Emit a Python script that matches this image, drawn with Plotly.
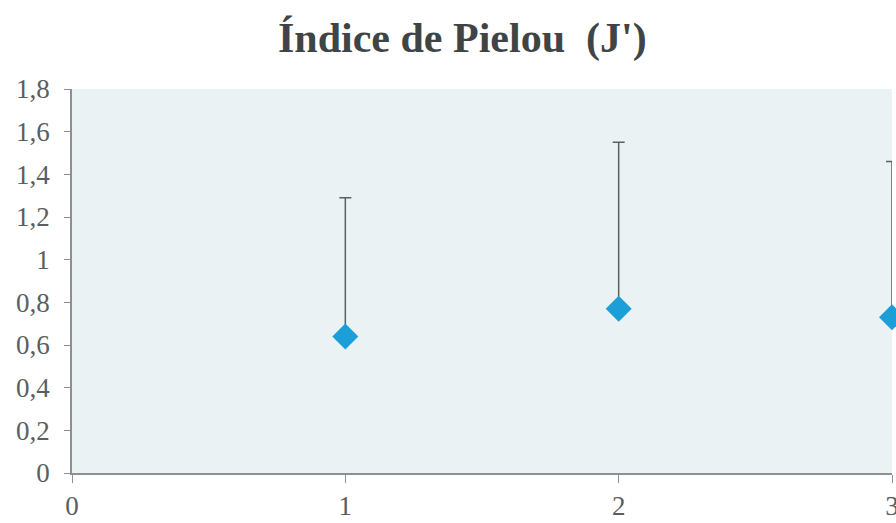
import plotly.graph_objects as go

# Pielou evenness per sample, with upper deviation
muestras = [1, 2, 3]
pielou = [0.64, 0.77, 0.73]
desvio_sup = [0.65, 0.78, 0.73]

y_ticks = [0, 0.2, 0.4, 0.6, 0.8, 1.0, 1.2, 1.4, 1.6, 1.8]
y_labels = ["0", "0,2", "0,4", "0,6", "0,8", "1", "1,2", "1,4", "1,6", "1,8"]
x_ticks = [0, 1, 2, 3]

SERIF = "Liberation Serif, Times New Roman, serif"

fig = go.Figure(
    go.Scatter(
        x=muestras,
        y=pielou,
        mode="markers",
        marker=dict(symbol="diamond", size=20, color="#1c9fd9",
                    line=dict(width=0)),
        error_y=dict(type="data", symmetric=False, array=desvio_sup,
                     arrayminus=[0, 0, 0], color="#5a6062",
                     thickness=1.5, width=6),
        cliponaxis=False,
        showlegend=False,
    )
)

fig.update_layout(
    width=896,
    height=523,
    margin=dict(l=72, r=4, t=89, b=50),
    paper_bgcolor="white",
    plot_bgcolor="#eaf2f4",
    title=dict(
        text="<b>Índice de Pielou  (J')</b>",
        x=0.516, xanchor="center", xref="container",
        y=0.928, yanchor="middle",
        font=dict(family=SERIF, size=42, color="#3f4446"),
    ),
    font=dict(family=SERIF, color="#5a5e60"),
)

fig.update_xaxes(
    range=[0, 3],
    tickvals=x_ticks,
    ticktext=[str(v) for v in x_ticks],
    automargin=False,
    showgrid=False,
    zeroline=False,
    showline=True,
    linecolor="#8a9093",
    linewidth=1.5,
    ticks="outside",
    ticklen=8,
    tickcolor="#8a9093",
    ticklabelstandoff=0,
    ticklabeloverflow="allow",
    tickfont=dict(size=27),
)

fig.update_yaxes(
    range=[0, 1.8],
    tickvals=y_ticks,
    ticktext=y_labels,
    automargin=False,
    showgrid=False,
    zeroline=False,
    showline=True,
    linecolor="#8a9093",
    linewidth=1.5,
    ticks="outside",
    ticklen=6,
    tickcolor="#8a9093",
    ticklabelstandoff=9,
    tickfont=dict(size=27),
)

fig.write_html("out.html")
